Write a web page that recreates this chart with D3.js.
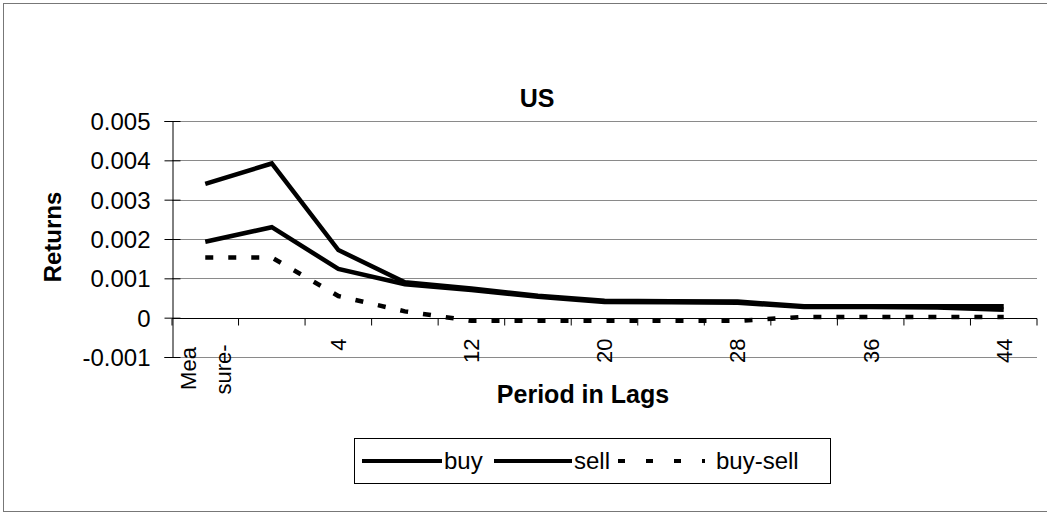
<!DOCTYPE html>
<html>
<head>
<meta charset="utf-8">
<script src="https://cdn.jsdelivr.net/npm/d3@7"></script>
<style>
  body { margin: 0; background: #fff; }
  text { font-family: "Liberation Sans", Arial, sans-serif; fill: #000; }
</style>
</head>
<body>
<div id="chart"></div>
<script>
// categories on the x axis (labels shown on every other one)
const categories = ["Measure-", "0", "4", "8", "12", "16", "20", "24", "28", "32", "36", "40", "44"];
const shownLabels = ["Measure-", "4", "12", "20", "28", "36", "44"];

// series values
const buy     = [0.00340, 0.00392, 0.00172, 0.00090, 0.00074, 0.00056, 0.00043, 0.00042, 0.00041, 0.00029, 0.00029, 0.00029, 0.00029];
const sell    = [0.00193, 0.00230, 0.00124, 0.00085, 0.00070, 0.00053, 0.00040, 0.00039, 0.00038, 0.00027, 0.00027, 0.00026, 0.00020];
const buySell = [0.00153, 0.00153, 0.00055, 0.00016, -0.00008, -0.00008, -0.00008, -0.00008, -0.00008, 0.00002, 0.00002, 0.00002, 0.00002];

const yTicks = [-0.001, 0, 0.001, 0.002, 0.003, 0.004, 0.005];

const W = 1047, H = 516;
const margin = {top: 121, right: 10, bottom: 159, left: 172};
const plotW = 1037 - margin.left, plotH = 357 - margin.top;

const svg = d3.select("#chart").append("svg")
  .attr("width", W).attr("height", H);

// chart frame
svg.append("rect")
  .attr("x", 3.5).attr("y", 3.5).attr("width", 1050).attr("height", 508)
  .attr("fill", "none").attr("stroke", "#777").attr("stroke-width", 1);

const g = svg.append("g")
  .attr("transform", "translate(" + margin.left + "," + margin.top + ")");

const x = d3.scaleBand().domain(categories).range([0, plotW]).padding(0);
const y = d3.scaleLinear().domain([-0.001, 0.005]).range([plotH, 0]);

// gridlines
g.selectAll(".grid")
  .data(yTicks)
  .enter().append("line")
  .attr("x1", 0).attr("x2", plotW)
  .attr("y1", d => Math.round(y(d)) + 0.5).attr("y2", d => Math.round(y(d)) + 0.5)
  .attr("stroke", "#8a8a8a").attr("stroke-width", 1);

// y axis
const yAxis = g.append("g")
  .attr("transform", "translate(0.5,0)")
  .call(d3.axisLeft(y).tickValues(yTicks).tickSize(8)
    .tickFormat(d => d === 0 ? "0" : d3.format(".3f")(d).replace("−", "-")));
yAxis.select(".domain").attr("stroke", "#000");
yAxis.selectAll(".tick line").attr("x2", 8).attr("x1", -8).attr("stroke", "#000");
yAxis.selectAll(".tick text")
  .style("font-size", "24px").style("font-family", "'Liberation Sans', Arial, sans-serif")
  .attr("x", -22).attr("dy", "0.36em");

// x axis along zero
const x0 = Math.round(y(0)) + 0.5;
g.append("line")
  .attr("x1", 0).attr("x2", plotW).attr("y1", x0).attr("y2", x0)
  .attr("stroke", "#000");
g.selectAll(".xtick")
  .data(categories.concat(["end"]))
  .enter().append("line")
  .attr("x1", (d, i) => i * x.bandwidth()).attr("x2", (d, i) => i * x.bandwidth())
  .attr("y1", x0).attr("y2", x0 + 7)
  .attr("stroke", "#000");

// category labels, rotated
const labelG = g.selectAll(".xlab")
  .data(shownLabels)
  .enter().append("g")
  .attr("transform", d => "translate(" + (x(d) + x.bandwidth() / 2) + "," + (x0 + 20) + ")");
labelG.filter(d => d !== "Measure-").append("text")
  .attr("transform", "rotate(-90)")
  .attr("text-anchor", "end")
  .attr("dy", "0.36em")
  .style("font-size", "22px")
  .text(d => d);
const measG = labelG.filter(d => d === "Measure-");
measG.append("text")
  .attr("transform", "translate(-9,30) rotate(-90)")
  .attr("text-anchor", "middle")
  .style("font-size", "22px")
  .text("Mea");
measG.append("text")
  .attr("transform", "translate(26,31) rotate(-90)")
  .attr("text-anchor", "middle")
  .style("font-size", "22px")
  .text("sure-");

// lines
const line = d3.line()
  .x((d, i) => x(categories[i]) + x.bandwidth() / 2)
  .y(d => y(d));

g.append("path").datum(sell)
  .attr("d", line).attr("fill", "none")
  .attr("stroke", "#000").attr("stroke-width", 4.5);
g.append("path").datum(buy)
  .attr("d", line).attr("fill", "none")
  .attr("stroke", "#000").attr("stroke-width", 4.5);
g.append("path").datum(buySell)
  .attr("d", line).attr("fill", "none")
  .attr("stroke", "#000").attr("stroke-width", 4.5)
  .attr("stroke-dasharray", "8,15");

// titles
svg.append("text")
  .attr("x", 537).attr("y", 107)
  .attr("text-anchor", "middle")
  .style("font-size", "25px").style("font-weight", "bold")
  .text("US");

svg.append("text")
  .attr("transform", "translate(61,237) rotate(-90)")
  .attr("text-anchor", "middle")
  .style("font-size", "24px").style("font-weight", "bold")
  .text("Returns");

svg.append("text")
  .attr("x", 583).attr("y", 403)
  .attr("text-anchor", "middle")
  .style("font-size", "25px").style("font-weight", "bold")
  .text("Period in Lags");

// legend
const legend = svg.append("g");
legend.append("rect")
  .attr("x", 354.5).attr("y", 438.5).attr("width", 476).attr("height", 45)
  .attr("fill", "#fff").attr("stroke", "#000");

const legendItems = [
  {name: "buy", x1: 362, x2: 442, tx: 444, dash: null},
  {name: "sell", x1: 494, x2: 572, tx: 574, dash: null},
  {name: "buy-sell", x1: 618, x2: 705, tx: 716, dash: "7,21"}
];
legendItems.forEach(it => {
  legend.append("line")
    .attr("x1", it.x1).attr("x2", it.x2).attr("y1", 461).attr("y2", 461)
    .attr("stroke", "#000").attr("stroke-width", 4)
    .attr("stroke-dasharray", it.dash);
  legend.append("text")
    .attr("x", it.tx).attr("y", 461).attr("dy", "0.35em")
    .style("font-size", "24px")
    .text(it.name);
});
</script>
</body>
</html>
